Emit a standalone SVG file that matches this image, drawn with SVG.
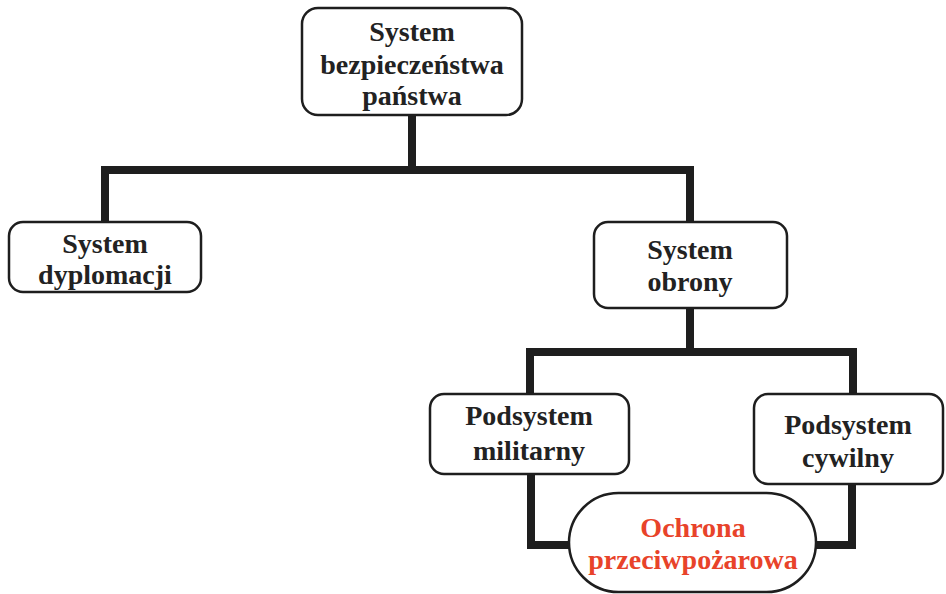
<svg xmlns="http://www.w3.org/2000/svg" width="946" height="594" viewBox="0 0 946 594">
<style>
.box{fill:#fff;stroke:#1e1e1e;stroke-width:2.5}
.ln{fill:none;stroke:#1e1e1e;stroke-width:8;stroke-linejoin:miter;stroke-linecap:butt}
text{font-family:"Liberation Serif","DejaVu Serif",serif;font-weight:bold;font-size:28px;fill:#222;text-anchor:middle}
.red{fill:#e8432a}
</style>
<rect width="946" height="594" fill="#fff"/>
<g id="connectors">
<path class="ln" d="M412 115V170M105 222V170H690V222"/>
<path class="ln" d="M690 308V352M530 394V352H853V394"/>
<path class="ln" d="M531 474V545H575M852 484V545H812"/>
</g>
<g id="n1">
<rect class="box" x="302" y="8" width="220" height="107" rx="16"/>
<text x="412" y="41">System</text>
<text x="412" y="74">bezpieczeństwa</text>
<text x="412" y="105">państwa</text>
</g>
<g id="n2">
<rect class="box" x="9" y="222" width="192" height="70" rx="14"/>
<text x="105" y="253">System</text>
<text x="105" y="284">dyplomacji</text>
</g>
<g id="n3">
<rect class="box" x="594" y="222" width="193" height="86" rx="14"/>
<text x="690" y="259">System</text>
<text x="690" y="291">obrony</text>
</g>
<g id="n4">
<rect class="box" x="430" y="394" width="199" height="80" rx="14"/>
<text x="529" y="425">Podsystem</text>
<text x="529" y="460">militarny</text>
</g>
<g id="n5">
<rect class="box" x="754" y="394" width="189" height="90" rx="14"/>
<text x="848" y="434">Podsystem</text>
<text x="848" y="467">cywilny</text>
</g>
<g id="n6">
<rect class="box" x="569" y="493" width="247" height="99" rx="49.5"/>
<text class="red" x="693" y="537">Ochrona</text>
<text class="red" x="693" y="569">przeciwpożarowa</text>
</g>
</svg>
